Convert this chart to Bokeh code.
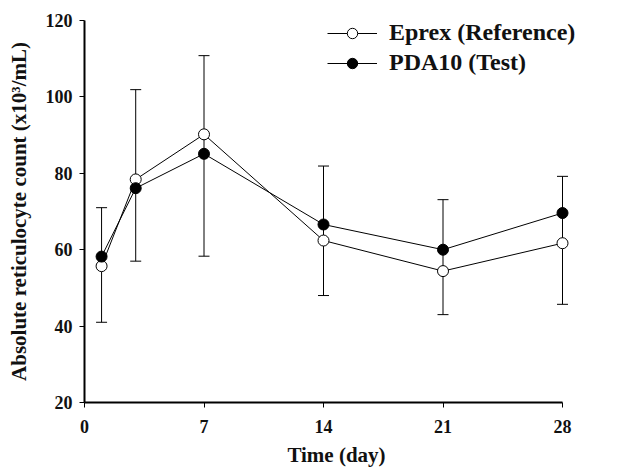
from bokeh.plotting import figure
from bokeh.models import (ColumnDataSource, Range1d, FixedTicker, Whisker, TeeHead,
                          Legend, LegendItem)
from bokeh.embed import file_html
from bokeh.resources import INLINE

# ---- data ----
days = [1, 3, 7, 14, 21, 28]
eprex = [55.7, 78.4, 90.2, 62.4, 54.4, 61.7]
pda10 = [58.2, 76.1, 85.1, 66.6, 60.0, 69.6]
err_upper = [71.0, 101.9, 110.8, 81.9, 73.1, 79.2]
err_lower = [41.0, 57.0, 58.3, 48.0, 43.0, 45.7]
x_ticks = [0, 7, 14, 21, 28]
y_ticks = [20, 40, 60, 80, 100, 120]

FONT = "Liberation Serif"
INK = "#111111"

src = ColumnDataSource(dict(day=days, eprex=eprex, pda10=pda10,
                            upper=err_upper, lower=err_lower))

FRAME_W = 504
X_END = 28 * FRAME_W / 478.0

p = figure(width=629, height=471, output_backend="svg", toolbar_location=None,
           x_range=Range1d(0, X_END), y_range=Range1d(20, 120),
           min_border_left=84, min_border_right=41, min_border_top=20,
           min_border_bottom=69)
p.outline_line_color = None
p.xgrid.visible = False
p.ygrid.visible = False
p.background_fill_color = "white"
p.border_fill_color = "white"

# error bars
w = Whisker(base="day", upper="upper", lower="lower", source=src,
            line_color="black", line_width=1,
            upper_head=TeeHead(size=11, line_color="black", line_width=1),
            lower_head=TeeHead(size=11, line_color="black", line_width=1))
p.add_layout(w)

le = p.line("day", "eprex", source=src, line_color="black", line_width=1)
lp = p.line("day", "pda10", source=src, line_color="black", line_width=1)
se = p.scatter("day", "eprex", source=src, size=11, marker="circle",
               fill_color="white", line_color="black", line_width=1)
sp = p.scatter("day", "pda10", source=src, size=11, marker="circle",
               fill_color="black", line_color="black", line_width=1)

legend = Legend(items=[LegendItem(label="Eprex (Reference)", renderers=[le, se]),
                       LegendItem(label="PDA10 (Test)", renderers=[lp, sp])],
                location=(243, 326), padding=0, margin=0, spacing=3,
                glyph_width=50, glyph_height=26, label_height=26,
                label_standoff=12, border_line_color=None,
                background_fill_alpha=0,
                label_text_font=FONT, label_text_font_style="bold",
                label_text_font_size="24px", label_text_color=INK)
p.add_layout(legend, "center")

# axes
for ax in (p.xaxis[0], p.yaxis[0]):
    ax.axis_line_width = 2
    ax.axis_line_color = "black"
    ax.major_tick_line_color = "black"
    ax.major_tick_line_width = 1
    ax.major_tick_in = 0
    ax.major_tick_out = 5
    ax.minor_tick_line_color = None
    ax.major_label_text_font = FONT
    ax.major_label_text_font_style = "bold"
    ax.major_label_text_font_size = "18px"
    ax.major_label_text_color = INK
    ax.axis_label_text_font = FONT
    ax.axis_label_text_font_style = "bold"
    ax.axis_label_text_color = INK

p.xaxis[0].ticker = FixedTicker(ticks=x_ticks)
p.xaxis[0].bounds = (0, 28)
p.xaxis[0].axis_label = "Time (day)"
p.xaxis[0].axis_label_text_font_size = "21px"
p.xaxis[0].major_label_standoff = 12
p.xaxis[0].axis_label_standoff = 7

p.yaxis[0].ticker = FixedTicker(ticks=y_ticks)
p.yaxis[0].axis_label = "Absolute reticulocyte count (x10\u00b3/mL)"
p.yaxis[0].axis_label_text_font_size = "21px"
p.yaxis[0].major_label_standoff = 7
p.yaxis[0].axis_label_standoff = 12

open("out.html", "w").write(file_html(p, INLINE))
